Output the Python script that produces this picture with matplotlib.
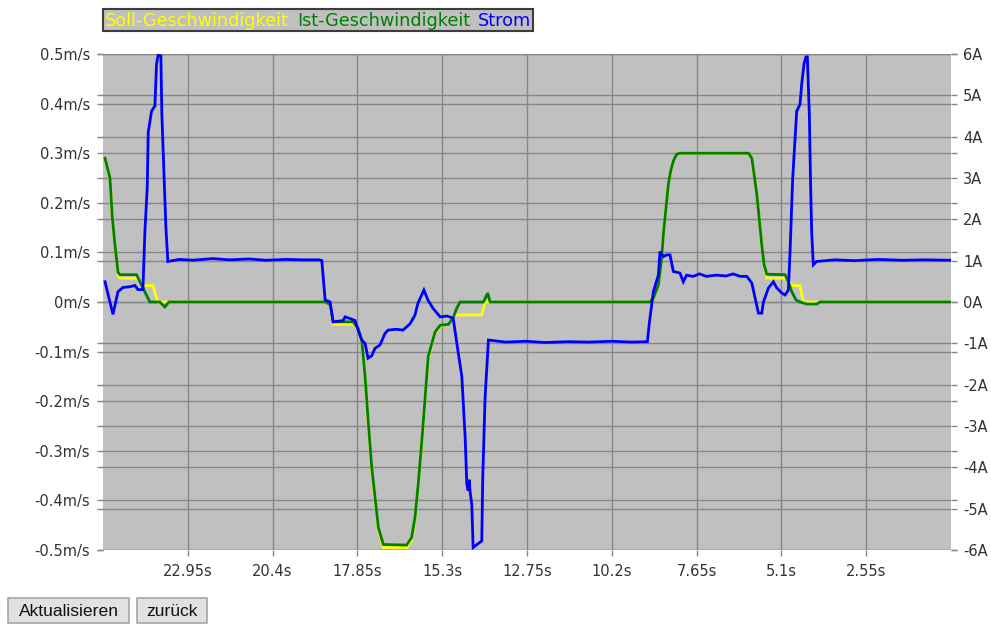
import matplotlib
matplotlib.use("Agg")
import matplotlib.pyplot as plt
from matplotlib.patches import Rectangle

# ---------------- data ----------------
# Ist-Geschwindigkeit (m/s), time in s (axis runs from 25.5 s down to 0 s)
ist_t = [25.44, 25.29, 25.22, 25.14, 25.05, 24.99, 24.49, 24.24, 24.09, 23.79, 23.64, 23.52,
         18.82, 18.67, 18.58, 17.98, 17.83, 17.72, 17.62, 17.52, 17.42, 17.31, 17.22, 17.07,
         16.37, 16.22, 16.12, 16.02, 15.92, 15.82, 15.72, 15.61, 15.51, 15.36, 15.11, 14.96,
         14.86, 14.76, 14.06, 13.93, 13.86,
         9.05, 8.95, 8.80, 8.70, 8.65, 8.60, 8.55, 8.50, 8.43, 8.35, 8.25, 8.15,
         6.09, 5.99, 5.92, 5.84, 5.76, 5.69, 5.62, 5.54, 4.99, 4.89, 4.79, 4.66, 4.54,
         4.34, 4.04, 3.94, 0.0]
ist_v = [0.29, 0.25, 0.17, 0.115, 0.06, 0.055, 0.055, 0.02, 0.0, 0.0, -0.01, 0.0,
         0.0, -0.005, -0.04, -0.04, -0.053, -0.077, -0.15, -0.245, -0.333, -0.40, -0.455, -0.489,
         -0.49, -0.475, -0.435, -0.367, -0.286, -0.198, -0.11, -0.083, -0.06, -0.047, -0.045, -0.03,
         -0.012, 0.0, 0.0, 0.018, 0.0,
         0.0, 0.008, 0.034, 0.088, 0.136, 0.17, 0.203, 0.237, 0.264, 0.284, 0.298, 0.30,
         0.30, 0.29, 0.257, 0.217, 0.163, 0.115, 0.075, 0.056, 0.055, 0.041, 0.021, 0.004, 0.0,
         -0.004, -0.004, 0.0, 0.0]

# Soll-Geschwindigkeit (m/s)
soll_t = [25.44, 25.29, 25.22, 25.14, 25.05, 24.99, 24.45, 24.30, 24.00, 23.85,
          18.82, 18.67, 18.58, 17.95, 17.83, 17.72, 17.62, 17.52, 17.42, 17.31, 17.22, 17.07,
          16.37, 16.22, 16.12, 16.02, 15.92, 15.82, 15.72, 15.61, 15.51, 15.36, 15.11, 14.96,
          14.86, 14.11, 14.01,
          9.05, 8.95, 8.80, 8.70, 8.65, 8.60, 8.55, 8.50, 8.43, 8.35, 8.25, 8.15,
          6.09, 5.99, 5.92, 5.84, 5.76, 5.69, 5.62, 5.54, 4.94, 4.79, 4.54, 4.44, 0.0]
soll_v = [0.29, 0.25, 0.17, 0.115, 0.055, 0.048, 0.048, 0.033, 0.033, 0.0,
          0.0, -0.005, -0.045, -0.045, -0.056, -0.08, -0.155, -0.25, -0.34, -0.405, -0.46, -0.495,
          -0.495, -0.48, -0.44, -0.37, -0.29, -0.2, -0.115, -0.085, -0.062, -0.049, -0.045, -0.028,
          -0.026, -0.026, 0.0,
          0.0, 0.008, 0.034, 0.088, 0.136, 0.17, 0.203, 0.237, 0.264, 0.284, 0.298, 0.30,
          0.30, 0.29, 0.257, 0.217, 0.163, 0.115, 0.075, 0.048, 0.048, 0.033, 0.033, 0.0, 0.0]

# Strom (A)
strom_t = [25.44, 25.20, 25.05, 24.90, 24.69, 24.54, 24.45, 24.30, 24.24, 24.17, 24.14, 24.04,
           23.94, 23.89, 23.84, 23.76, 23.73, 23.67, 23.61, 23.55, 23.20, 22.80, 22.20, 21.70,
           21.10, 20.60, 20.00, 19.50, 19.00, 18.92, 18.88, 18.82, 18.67, 18.58, 18.28, 18.22,
           18.07, 17.92, 17.83, 17.72, 17.62, 17.53, 17.42, 17.32, 17.17, 17.02, 16.93, 16.67,
           16.48, 16.27, 16.12, 16.03, 15.85, 15.73, 15.58, 15.36, 15.16, 14.97, 14.86, 14.71,
           14.61, 14.56, 14.52, 14.49, 14.46, 14.41, 14.37, 14.26, 14.11, 14.08, 14.01, 13.91,
           13.40, 12.80, 12.20, 11.50, 10.90, 10.20, 9.60, 9.13, 9.07, 8.95, 8.80, 8.75,
           8.65, 8.55, 8.45, 8.35, 8.15, 8.05, 7.95, 7.76, 7.56, 7.36, 7.06, 6.76,
           6.55, 6.34, 6.14, 5.99, 5.89, 5.79, 5.69, 5.64, 5.49, 5.34, 5.24, 5.09,
           4.99, 4.89, 4.84, 4.76, 4.64, 4.54, 4.49, 4.42, 4.36, 4.32, 4.29, 4.26,
           4.22, 4.19, 4.14, 4.04, 3.50, 2.90, 2.20, 1.50, 0.80, 0.0]
strom_a = [0.49, -0.30, 0.25, 0.35, 0.37, 0.40, 0.30, 0.30, 1.70, 2.77, 4.10, 4.62,
           4.74, 5.76, 5.98, 5.95, 4.54, 3.20, 1.83, 0.98, 1.03, 1.01, 1.05, 1.02,
           1.04, 1.01, 1.03, 1.02, 1.02, 1.00, 0.62, 0.05, 0.0, -0.48, -0.45, -0.36,
           -0.40, -0.45, -0.68, -0.92, -1.00, -1.36, -1.30, -1.12, -1.04, -0.76, -0.68, -0.66,
           -0.68, -0.53, -0.32, -0.03, 0.29, 0.05, -0.15, -0.36, -0.34, -0.39, -1.00, -1.80,
           -3.27, -4.40, -4.56, -4.30, -4.60, -4.90, -5.94, -5.87, -5.78, -4.24, -2.30, -0.92,
           -0.97, -0.95, -0.98, -0.96, -0.97, -0.95, -0.97, -0.96, -0.50, 0.25, 0.65, 1.22,
           1.10, 1.14, 1.14, 0.74, 0.70, 0.49, 0.65, 0.62, 0.68, 0.62, 0.65, 0.63,
           0.68, 0.62, 0.62, 0.46, 0.10, -0.27, -0.27, 0.0, 0.34, 0.49, 0.34, 0.22,
           0.17, 0.29, 1.22, 3.00, 4.62, 4.78, 5.27, 5.76, 5.93, 5.93, 5.27, 4.54,
           2.77, 1.70, 0.90, 0.98, 1.02, 1.00, 1.03, 1.01, 1.02, 1.01]

x_ticks = [22.95, 20.4, 17.85, 15.3, 12.75, 10.2, 7.65, 5.1, 2.55]
x_labels = ["22.95s", "20.4s", "17.85s", "15.3s", "12.75s", "10.2s", "7.65s", "5.1s", "2.55s"]
v_ticks = [-0.5, -0.4, -0.3, -0.2, -0.1, 0.0, 0.1, 0.2, 0.3, 0.4, 0.5]
v_labels = ["-0.5m/s", "-0.4m/s", "-0.3m/s", "-0.2m/s", "-0.1m/s", "0m/s",
            "0.1m/s", "0.2m/s", "0.3m/s", "0.4m/s", "0.5m/s"]
a_ticks = [-6, -5, -4, -3, -2, -1, 0, 1, 2, 3, 4, 5, 6]
a_labels = ["-6A", "-5A", "-4A", "-3A", "-2A", "-1A", "0A", "1A", "2A", "3A", "4A", "5A", "6A"]
legend_names = ["Soll-Geschwindigkeit", "Ist-Geschwindigkeit", "Strom"]

# ---------------- style ----------------
W, H = 991, 624
GRID = "#878787"
TXT = "#333333"
TICK_FS = 10.5
TLEN = 4.3
plt.rcParams["font.family"] = ["DejaVu Sans"]

fig = plt.figure(figsize=(W / 100, H / 100), dpi=100)
fig.patch.set_facecolor("white")

pos = [103 / W, 74 / H, 848 / W, 496 / H]
ax_a = fig.add_axes(pos)          # current scale (bottom, gray background)
ax_v = ax_a.twinx()               # speed scale (top, transparent)
ax_v.set_zorder(ax_a.get_zorder() + 1)
ax_v.patch.set_visible(False)
ax_a.patch.set_visible(True)
ax_a.set_facecolor("#c0c0c0")

for a in (ax_a, ax_v):
    for s in a.spines.values():
        s.set_visible(False)
    a.set_xlim(25.5, 0)

ax_v.set_ylim(-0.5, 0.5)
ax_a.set_ylim(-6, 6)

# speed axis: labels left
ax_v.set_yticks(v_ticks)
ax_v.set_yticklabels(v_labels)
ax_v.tick_params(axis="y", left=True, right=True, labelleft=True, labelright=False,
                 length=TLEN, width=1, color=GRID, labelsize=TICK_FS, labelcolor=TXT, pad=5)
# current axis: labels right
ax_a.set_yticks(a_ticks)
ax_a.set_yticklabels(a_labels)
ax_a.yaxis.tick_right()
ax_a.tick_params(axis="y", left=True, right=True, labelleft=False, labelright=True,
                 length=TLEN, width=1, color=GRID, labelsize=TICK_FS, labelcolor=TXT, pad=4.5)

ax_a.set_xticks(x_ticks)
ax_a.set_xticklabels(x_labels)
ax_a.tick_params(axis="x", bottom=True, length=TLEN, width=1, color=GRID,
                 labelsize=TICK_FS, labelcolor=TXT, pad=5.5)
ax_v.tick_params(axis="x", bottom=False, labelbottom=False)

ax_a.grid(True, axis="both", color=GRID, linewidth=1.0)
ax_a.set_axisbelow(True)
ax_v.grid(True, axis="y", color=GRID, linewidth=1.0)
ax_v.set_axisbelow(True)

# data lines (all drawn on the top axes, in order yellow, green, blue)
ax_v.plot(soll_t, soll_v, color="#ffff00", linewidth=2.0, solid_joinstyle="miter", zorder=3)
ax_v.plot(ist_t, ist_v, color="#008000", linewidth=2.0, solid_joinstyle="miter", zorder=4)
ax_v.plot(strom_t, strom_a, color="#0000ff", linewidth=2.0, solid_joinstyle="miter",
          transform=ax_a.transData, zorder=5)
ax_v.set_ylim(-0.5, 0.5)
ax_v.set_xlim(25.5, 0)

# ---------------- legend box ----------------
lx0, ly0, lx1, ly1 = 103, 9, 533, 31
fig.patches.append(Rectangle((lx0 / W, 1 - ly1 / H), (lx1 - lx0) / W, (ly1 - ly0) / H,
                             transform=fig.transFigure, facecolor="#c0c0c0",
                             edgecolor="#3c3c3c", linewidth=1.5))
leg_colors = ["#ffff00", "#008000", "#0000ff"]
fig.canvas.draw()
renderer = fig.canvas.get_renderer()
xcur = 105
space_px = 8
for name, col in zip(legend_names, leg_colors):
    t = fig.text(xcur / W, 1 - 21 / H, name, color=col, fontsize=12.7, va="center", ha="left")
    bb = t.get_window_extent(renderer=renderer)
    xcur = xcur + bb.width + space_px

# ---------------- buttons ----------------
for (bx0, bx1, label) in [(8, 129, "Aktualisieren"), (137, 207, "zurück")]:
    by0, by1 = 598, 623
    fig.patches.append(Rectangle((bx0 / W, 1 - by1 / H), (bx1 - bx0) / W, (by1 - by0) / H,
                                 transform=fig.transFigure, facecolor="#e1e1e1",
                                 edgecolor="#a6a6a6", linewidth=1.2))
    fig.text((bx0 + bx1) / 2 / W, 1 - (by0 + by1 + 1) / 2 / H, label, fontsize=12.6,
             family=["Liberation Sans", "DejaVu Sans"], color="#111111",
             ha="center", va="center")

fig.savefig("out.png", dpi=100, facecolor="white")
